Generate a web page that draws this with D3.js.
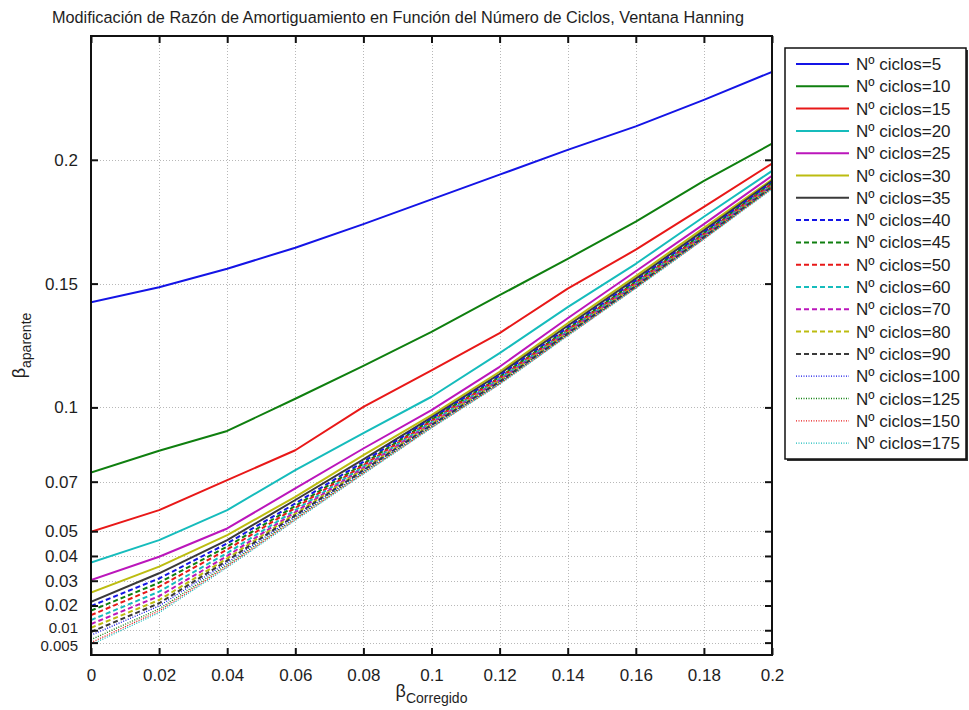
<!DOCTYPE html>
<html>
<head>
<meta charset="utf-8">
<script src="https://cdn.jsdelivr.net/npm/d3@7"></script>
<style>
  body { margin: 0; background: #fff; }
  text { font-family: "Liberation Sans", Arial, sans-serif; fill: #1e1e1e; }
</style>
</head>
<body>
<svg id="chart" width="969" height="710"></svg>
<script>
// Beta corregido (x) sampled every 0.02
const betaCorregido = [0, 0.02, 0.04, 0.06, 0.08, 0.10, 0.12, 0.14, 0.16, 0.18, 0.20];

// Apparent damping ratio for each number of cycles (Hanning window)
const aparente5   = [0.1425, 0.1485, 0.1560, 0.1645, 0.1740, 0.1840, 0.1940, 0.2040, 0.2135, 0.2242, 0.2355];
const aparente10  = [0.0737, 0.0825, 0.0905, 0.1035, 0.1168, 0.1305, 0.1453, 0.1600, 0.1750, 0.1915, 0.2065];
const aparente15  = [0.0498, 0.0585, 0.0706, 0.0827, 0.1002, 0.1150, 0.1300, 0.1480, 0.1637, 0.1810, 0.1985];
const aparente20  = [0.0373, 0.0464, 0.0585, 0.0747, 0.0896, 0.1043, 0.1219, 0.1405, 0.1580, 0.1770, 0.1955];
const aparente25  = [0.0303, 0.0397, 0.0511, 0.0673, 0.0834, 0.0989, 0.1164, 0.1360, 0.1550, 0.1740, 0.1935];
const aparente30  = [0.0252, 0.0357, 0.0484, 0.0639, 0.0807, 0.0969, 0.1144, 0.1340, 0.1530, 0.1725, 0.1920];
const aparente35  = [0.0215, 0.0330, 0.0464, 0.0626, 0.0790, 0.0960, 0.1135, 0.1330, 0.1520, 0.1715, 0.1915];
const aparente40  = [0.0198, 0.0309, 0.0451, 0.0612, 0.0780, 0.0955, 0.1128, 0.1322, 0.1512, 0.1708, 0.1910];
const aparente45  = [0.0179, 0.0292, 0.0438, 0.0602, 0.0772, 0.0950, 0.1122, 0.1316, 0.1507, 0.1703, 0.1905];
const aparente50  = [0.0161, 0.0276, 0.0426, 0.0594, 0.0766, 0.0945, 0.1118, 0.1312, 0.1503, 0.1699, 0.1902];
const aparente60  = [0.0141, 0.0256, 0.0412, 0.0585, 0.0760, 0.0940, 0.1114, 0.1308, 0.1499, 0.1696, 0.1899];
const aparente70  = [0.0125, 0.0238, 0.0400, 0.0577, 0.0755, 0.0936, 0.1110, 0.1305, 0.1496, 0.1693, 0.1896];
const aparente80  = [0.0110, 0.0222, 0.0390, 0.0570, 0.0750, 0.0932, 0.1107, 0.1302, 0.1493, 0.1690, 0.1893];
const aparente90  = [0.0093, 0.0209, 0.0381, 0.0564, 0.0746, 0.0929, 0.1104, 0.1299, 0.1490, 0.1688, 0.1891];
const aparente100 = [0.0080, 0.0198, 0.0373, 0.0559, 0.0742, 0.0926, 0.1101, 0.1297, 0.1488, 0.1686, 0.1889];
const aparente125 = [0.0062, 0.0186, 0.0365, 0.0553, 0.0738, 0.0922, 0.1098, 0.1294, 0.1485, 0.1683, 0.1886];
const aparente150 = [0.0050, 0.0178, 0.0359, 0.0548, 0.0734, 0.0919, 0.1095, 0.1291, 0.1483, 0.1681, 0.1884];
const aparente175 = [0.0042, 0.0171, 0.0354, 0.0544, 0.0731, 0.0917, 0.1093, 0.1289, 0.1481, 0.1679, 0.1882];

const numCiclos = [5, 10, 15, 20, 25, 30, 35, 40, 45, 50, 60, 70, 80, 90, 100, 125, 150, 175];
const valores = [aparente5, aparente10, aparente15, aparente20, aparente25, aparente30, aparente35,
                 aparente40, aparente45, aparente50, aparente60, aparente70, aparente80, aparente90,
                 aparente100, aparente125, aparente150, aparente175];

// Axis ticks
const xTicks = [0, 0.02, 0.04, 0.06, 0.08, 0.1, 0.12, 0.14, 0.16, 0.18, 0.2];
const yTicks = [0.005, 0.01, 0.02, 0.03, 0.04, 0.05, 0.07, 0.1, 0.15, 0.2];

const tituloTexto = "Modificación de Razón de Amortiguamiento en Función del Número de Ciclos, Ventana Hanning";

// Colour order and line styles (solid, dashed, dotted)
const colores = ["#1414e6", "#0f7f0f", "#e81818", "#16bcbc", "#bb16bb", "#bcbc10", "#3a3a3a"];
function estilo(i) {
  if (i < 7) return { dash: null, width: 2 };
  if (i < 14) return { dash: "5,3", width: 2 };
  return { dash: "1,1.5", width: 1.3 };
}

const svg = d3.select("#chart");
svg.append("rect").attr("width", 969).attr("height", 710).attr("fill", "#fff");

const plot = { left: 91, right: 772, top: 36, bottom: 655 };
const x = d3.scaleLinear().domain([0, 0.2]).range([plot.left, plot.right]);
const y = d3.scaleLinear().domain([0, 0.25]).range([plot.bottom, plot.top]);

// Grid
const grid = svg.append("g").attr("stroke", "#b8b8b8").attr("stroke-width", 1).attr("stroke-dasharray", "1,2");
grid.selectAll("line.vx").data(xTicks.slice(1, -1)).join("line")
  .attr("x1", d => Math.round(x(d)) + 0.5).attr("x2", d => Math.round(x(d)) + 0.5)
  .attr("y1", plot.top).attr("y2", plot.bottom);
grid.selectAll("line.hy").data(yTicks).join("line")
  .attr("y1", d => Math.round(y(d)) + 0.5).attr("y2", d => Math.round(y(d)) + 0.5)
  .attr("x1", plot.left).attr("x2", plot.right);

// Series
const line = d3.line().x((d, i) => x(betaCorregido[i])).y(d => y(d));
const clip = svg.append("clipPath").attr("id", "clip").append("rect")
  .attr("x", plot.left).attr("y", plot.top).attr("width", plot.right - plot.left).attr("height", plot.bottom - plot.top);
const lines = svg.append("g").attr("clip-path", "url(#clip)");
valores.forEach((v, i) => {
  const s = estilo(i);
  lines.append("path").datum(v)
    .attr("d", line)
    .attr("fill", "none")
    .attr("stroke", colores[i % 7])
    .attr("stroke-width", s.width)
    .attr("stroke-dasharray", s.dash)
    .attr("stroke-linejoin", "round");
});

// Axes (ticks inward on all four sides)
const tickLen = 7;
const axisBottom = d3.axisBottom(x).tickValues(xTicks).tickSize(-tickLen).tickPadding(tickLen + 7)
  .tickFormat(d => d3.format("~g")(d));
const axisTop = d3.axisTop(x).tickValues(xTicks).tickSize(-tickLen).tickFormat("");
const axisLeft = d3.axisLeft(y).tickValues(yTicks).tickSize(-tickLen).tickPadding(tickLen + 6)
  .tickFormat(d => d3.format("~g")(d));
const axisRight = d3.axisRight(y).tickValues(yTicks).tickSize(-tickLen).tickFormat("");

function styleAxis(g) {
  g.select(".domain").remove();
  g.selectAll(".tick line").attr("stroke", "#111").attr("stroke-width", 2);
  g.selectAll(".tick text").attr("font-size", 17).attr("fill", "#2a2a2a")
    .style("font-family", "'Liberation Sans', Arial, sans-serif");
}
svg.append("g").attr("transform", `translate(0,${plot.bottom})`).call(axisBottom).call(styleAxis);
svg.append("g").attr("transform", `translate(0,${plot.top})`).call(axisTop).call(styleAxis);
const gLeft = svg.append("g").attr("transform", `translate(${plot.left},0)`).call(axisLeft).call(styleAxis);
// the two lowest labels sit very close; make them a touch smaller and spread them apart
gLeft.selectAll(".tick text")
  .attr("font-size", d => (d === 0.005 || d === 0.01) ? 15 : 17)
  .attr("dy", d => d === 0.005 ? "0.5em" : d === 0.01 ? "0.15em" : "0.32em");
svg.append("g").attr("transform", `translate(${plot.right},0)`).call(axisRight).call(styleAxis);

// Frame
svg.append("rect")
  .attr("x", plot.left).attr("y", plot.top)
  .attr("width", plot.right - plot.left).attr("height", plot.bottom - plot.top)
  .attr("fill", "none").attr("stroke", "#111").attr("stroke-width", 2);

// Title
svg.append("text").attr("x", 52).attr("y", 23).attr("font-size", 16.25).attr("fill", "#222")
  .text(tituloTexto);

// Axis labels
const xl = svg.append("text").attr("x", (plot.left + plot.right) / 2).attr("y", 697)
  .attr("text-anchor", "middle").attr("fill", "#2a2a2a");
xl.append("tspan").attr("font-size", 18).text("β");
xl.append("tspan").attr("font-size", 14).attr("dy", 6).text("Corregido");

const yl = svg.append("text")
  .attr("transform", `translate(25,${(plot.top + plot.bottom) / 2}) rotate(-90)`)
  .attr("text-anchor", "middle").attr("fill", "#2a2a2a");
yl.append("tspan").attr("font-size", 18).text("β");
yl.append("tspan").attr("font-size", 14).attr("dy", 6).text("aparente");

// Legend
const leg = { x: 785, y: 48, w: 181, h: 411, first: 64, step: 22.3 };
svg.append("rect").attr("x", leg.x + 2).attr("y", leg.y + 2).attr("width", leg.w).attr("height", leg.h)
  .attr("fill", "#333");
svg.append("rect").attr("x", leg.x).attr("y", leg.y).attr("width", leg.w).attr("height", leg.h)
  .attr("fill", "#fff").attr("stroke", "#111").attr("stroke-width", 1.5);
const items = svg.append("g").selectAll("g").data(numCiclos).join("g")
  .attr("transform", (d, i) => `translate(0,${leg.first + i * leg.step})`);
items.append("line")
  .attr("x1", 796).attr("x2", 849).attr("y1", 0).attr("y2", 0)
  .attr("stroke", (d, i) => colores[i % 7])
  .attr("stroke-width", (d, i) => estilo(i).width)
  .attr("stroke-dasharray", (d, i) => estilo(i).dash);
items.append("text").attr("x", 856).attr("y", 6).attr("font-size", 17).attr("fill", "#222")
  .text(d => `Nº ciclos=${d}`);
</script>
</body>
</html>
